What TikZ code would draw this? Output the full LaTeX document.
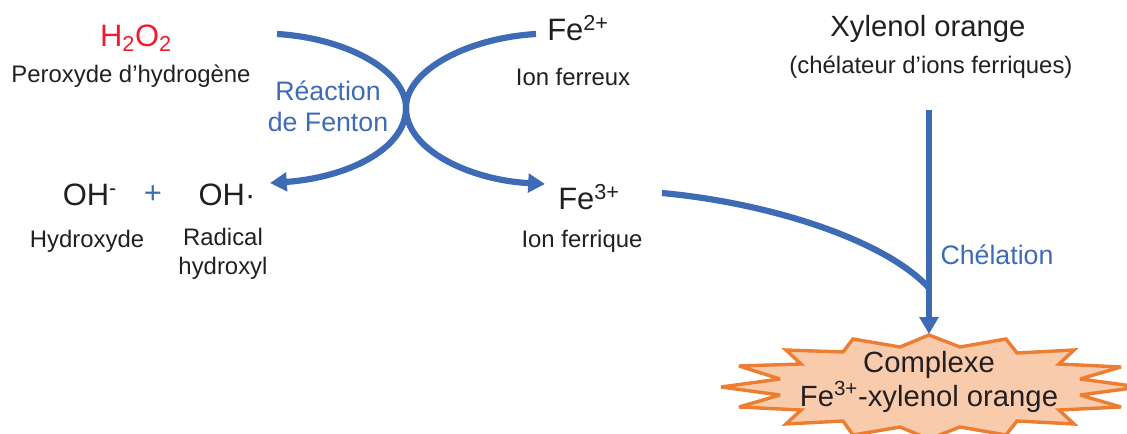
\documentclass[tikz,border=0pt]{standalone}
\usepackage{fontspec}
\setmainfont{Liberation Sans}
\usetikzlibrary{positioning,arrows.meta}
\definecolor{fenton}{RGB}{61,107,181}
\definecolor{peroxyde}{RGB}{237,28,46}
\definecolor{encre}{RGB}{35,31,32}
\definecolor{starline}{RGB}{237,125,49}
\definecolor{starfill}{RGB}{248,203,173}

\begin{document}
\begin{tikzpicture}[
  x=0.025cm, y=-0.025cm,
  big/.style={font=\fontsize{20.8}{24}\selectfont, text=encre, inner sep=1pt, align=center},
  chem/.style={font=\fontsize{22}{24}\selectfont, text=encre, inner sep=1pt, align=center},
  small/.style={font=\fontsize{17}{20.6}\selectfont, text=encre, inner sep=1pt, align=center},
  blue/.style={font=\fontsize{19}{22}\selectfont, text=fenton, inner sep=1pt, align=center},
  ar/.style={line width=0.155cm, draw=fenton, -{Triangle[length=0.42cm, width=0.46cm]}},
  ln/.style={line width=0.155cm, draw=fenton},
]
\clip (0,0) rectangle (1127,434);

\node[chem, text=peroxyde] (hh)  at (136,38)  {H\textsubscript{2}O\textsubscript{2}};
\node[small]               (per) at (131,76)  {Peroxyde d’hydrogène};
\node[chem]                (fe2) at (578,28)  {Fe\textsuperscript{2+}};
\node[small]               (fer) at (573,77)  {Ion ferreux};
\node[big]                 (xo)  at (928,29)  {Xylenol orange};
\node[small]               (che) at (931,67)  {(chélateur d’ions ferriques)};
\node[chem]                (oh)  at (90,195)  {OH\textsuperscript{-}};
\node[chem, text=fenton]   (pl)  at (153,195) {+};
\node[chem]                (rad) at (227,195) {OH·};
\node[small]               (hyd) at (87,241)  {Hydroxyde};
\node[small]               (rh)  at (223,254) {Radical\\hydroxyl};
\node[chem]                (fe3) at (589,197) {Fe\textsuperscript{3+}};
\node[small]               (ife) at (582,241) {Ion ferrique};
\node[blue]                (rf)  at (328,106) {Réaction\\de Fenton};
\node[blue]                (cl)  at (997,255) {Chélation};

% star
\draw[draw=starline, fill=starfill, line width=0.085cm, line join=miter, miter limit=4]
  (721,387) -- (780,379) -- (739,366) -- (801,364) -- (786,350) -- (843,352)
  -- (853,339) -- (900,347) -- (929,335) -- (960,347) -- (1006,339) -- (1017,353)
  -- (1074,350) -- (1059,364) -- (1121,367) -- (1080,379) -- (1140,387)
  -- (1080,395) -- (1121,407) -- (1059,410) -- (1074,424) -- (1017,421)
  -- (1006,435) -- (960,427) -- (929,439) -- (900,427) -- (853,435) -- (843,421)
  -- (786,424) -- (801,410) -- (739,407) -- (780,395) -- cycle;
\node[big] (cx) at (929,382) {Complexe\\Fe\textsuperscript{3+}-xylenol orange};

\coordinate (h0) at (277,34);
\coordinate (f0) at (536,34);
\coordinate (mid) at (406,108);
\coordinate (h1) at (270,183);
\coordinate (f1) at (545,184);
\coordinate (x0) at (929,110);
\coordinate (x1) at (929,334);
\coordinate (s0) at (662,193);
\coordinate (s1) at (929,288);

\draw[ln] (h0) .. controls (345,38) and (406,70) .. (mid);
\draw[ar] (mid) .. controls (406,150) and (345,178) .. (h1);
\draw[ln] (f0) .. controls (468,38) and (406,70) .. (mid);
\draw[ar] (mid) .. controls (406,150) and (470,180) .. (f1);
\draw[ln] (s0) .. controls (770,203) and (885,240) .. (s1);
\draw[ar] (x0) -- (x1);
\end{tikzpicture}
\end{document}
